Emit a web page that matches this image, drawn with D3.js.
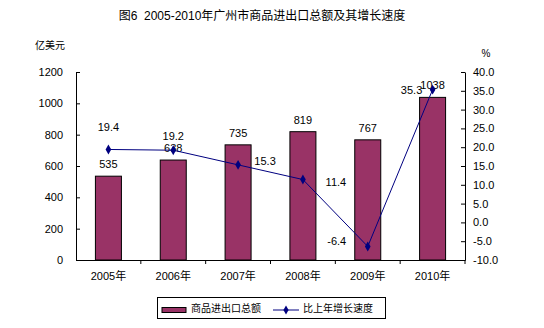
<!DOCTYPE html>
<html><head><meta charset="utf-8">
<script src="https://cdn.jsdelivr.net/npm/d3@7"></script>
<style>
body{margin:0;background:#fff;}
text{font-family:"Liberation Sans",Arial,"Noto Sans CJK SC",sans-serif;fill:#000;white-space:pre;}
</style></head>
<body><svg id="c" width="544" height="328"></svg>
<script>
const categories = ["2005年","2006年","2007年","2008年","2009年","2010年"];
const totals = [535, 638, 735, 819, 767, 1038];
const growth = [19.4, 19.2, 15.3, 11.4, -6.4, 35.3];
const leftTicks = [0,200,400,600,800,1000,1200];
const rightTicks = [-10,-5,0,5,10,15,20,25,30,35,40];
const growthLabelOffsets = [[0,-22],[0,-14],[27,-4],[33,2],[-31,-5],[-21,0]];
const title = "图6  2005-2010年广州市商品进出口总额及其增长速度";

const fmt1 = v => d3.format(".1f")(v).replace("\u2212","-");
const svg = d3.select("#c");
const L=76, R=465, T=72, B=260;
const x = d3.scaleBand().domain(categories).range([L,R]);
const yL = d3.scaleLinear().domain([0,1200]).range([B,T]);
const yR = d3.scaleLinear().domain([-10,40]).range([B,T]);
const barW = 26;

svg.append("text").attr("x",262).attr("y",20).attr("text-anchor","middle")
  .attr("font-size",12).text(title);
svg.append("text").attr("x",35).attr("y",49).attr("font-size",10).text("亿美元");
svg.append("text").attr("x",486).attr("y",57).attr("text-anchor","middle").attr("font-size",10).text("%");

// bars
svg.selectAll("rect.bar").data(totals).enter().append("rect")
  .attr("x",(d,i)=>x(categories[i])+x.bandwidth()/2-barW/2)
  .attr("y",d=>yL(d)).attr("width",barW).attr("height",d=>B-yL(d))
  .attr("fill","#993366").attr("stroke","#000").attr("stroke-width",1);

// axes
const axL = svg.append("g").attr("transform",`translate(${L},0)`)
  .call(d3.axisLeft(yL).tickValues(leftTicks).tickSizeInner(-4).tickSizeOuter(0).tickPadding(13).tickFormat(d3.format("d")));
const axR = svg.append("g").attr("transform",`translate(${R},0)`)
  .call(d3.axisRight(yR).tickValues(rightTicks).tickSizeInner(-4).tickSizeOuter(0).tickPadding(8).tickFormat(fmt1));
const axB = svg.append("g").attr("transform",`translate(0,${B})`)
  .call(d3.axisBottom(x).tickSize(0).tickPadding(12));
[axL,axR,axB].forEach(g=>{
  g.select(".domain").attr("stroke","#000");
  g.selectAll("line").attr("stroke","#000");
  g.selectAll("text").attr("font-size",11).attr("font-family",'"Liberation Sans",Arial,"Noto Sans CJK SC",sans-serif');
});
// category boundary ticks
const bounds = categories.slice(1).map(c=>x(c)).concat([R]);
svg.selectAll("line.ct").data(bounds).enter().append("line")
  .attr("x1",d=>d).attr("x2",d=>d).attr("y1",B).attr("y2",B+4).attr("stroke","#000");

// bar labels
svg.selectAll("text.bl").data(totals).enter().append("text")
  .attr("x",(d,i)=>x(categories[i])+x.bandwidth()/2)
  .attr("y",d=>yL(d)-8).attr("text-anchor","middle").attr("font-size",11).text(d=>d);

// line
const cx = i=>x(categories[i])+x.bandwidth()/2;
svg.append("path").datum(growth)
  .attr("d",d3.line().x((d,i)=>cx(i)).y(d=>yR(d)))
  .attr("fill","none").attr("stroke","#000080").attr("stroke-width",1);
svg.selectAll("path.m").data(growth).enter().append("path")
  .attr("d",d3.symbol().type(d3.symbolDiamond).size(28))
  .attr("transform",(d,i)=>`translate(${cx(i)},${yR(d)})`).attr("fill","#000080");
svg.selectAll("text.gl").data(growth).enter().append("text")
  .attr("x",(d,i)=>cx(i)+growthLabelOffsets[i][0])
  .attr("y",(d,i)=>yR(d)+growthLabelOffsets[i][1]+4)
  .attr("text-anchor","middle").attr("font-size",11).text(d=>fmt1(d));

// legend
const lg = svg.append("g");
lg.append("rect").attr("x",157.5).attr("y",297.5).attr("width",228).attr("height",21)
  .attr("fill","#fff").attr("stroke","#000");
lg.append("rect").attr("x",162).attr("y",307.5).attr("width",24).attr("height",5)
  .attr("fill","#993366").attr("stroke","#000");
lg.append("text").attr("x",191).attr("y",312).attr("font-size",10).attr("font-family",'"Noto Sans CJK SC",sans-serif').text("商品进出口总额");
lg.append("line").attr("x1",273).attr("x2",299).attr("y1",310).attr("y2",310).attr("stroke","#000080");
lg.append("path").attr("d",d3.symbol().type(d3.symbolDiamond).size(24)).attr("transform","translate(286,310)").attr("fill","#000080");
lg.append("text").attr("x",303).attr("y",312).attr("font-size",10).attr("font-family",'"Noto Sans CJK SC",sans-serif').text("比上年增长速度");
</script></body></html>
